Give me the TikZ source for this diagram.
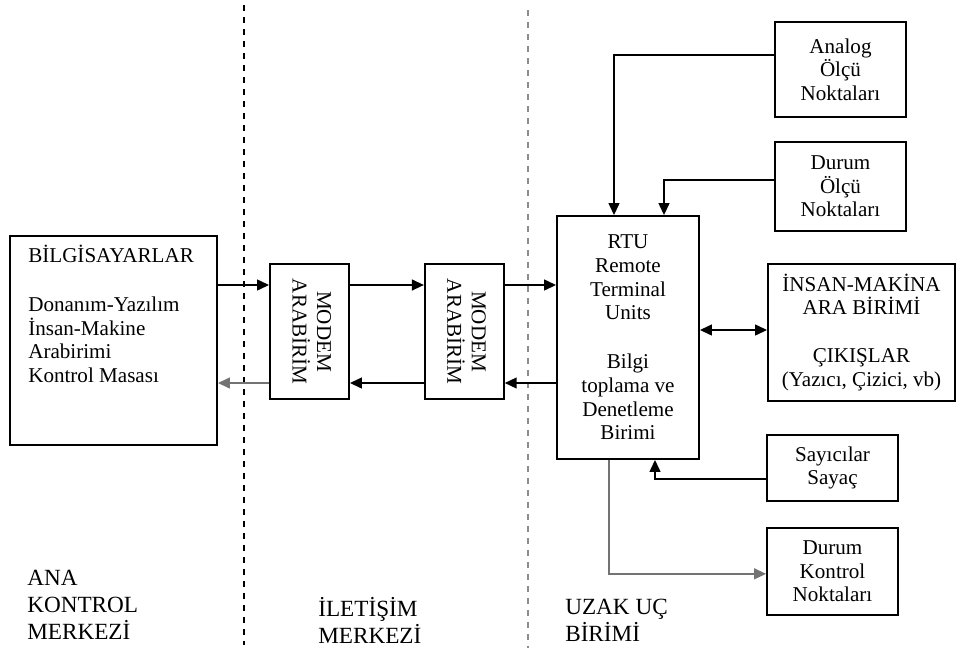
\documentclass[tikz,border=0pt]{standalone}
\usepackage{fontspec}
\setmainfont{Liberation Serif}
\usepackage{graphicx}
\usetikzlibrary{arrows.meta, positioning}

\begin{document}
\begin{tikzpicture}[
  node distance=0.6cm,
  box/.style={rectangle, draw=black, line width=1.3pt, inner sep=0pt, align=center,
              font=\fontsize{15}{16.8}\selectfont},
  flow/.style={-{Triangle[length=0.3cm, width=0.27cm]}, line width=1.3pt},
  twoway/.style={{Triangle[length=0.3cm, width=0.27cm]}-{Triangle[length=0.3cm, width=0.27cm]}, line width=1.3pt},
  faint/.style={color=black!55},
  zone/.style={anchor=north west, align=left, inner sep=0pt, font=\fontsize{16.5}{19.2}\selectfont},
  divider/.style={line width=1.1pt, dash pattern=on 0.15cm off 0.15cm}
]
  \useasboundingbox (0,0) rectangle (23.925,-16.3);

  % Zone separators
  \draw[divider] (6.1,-0.125) -- (6.1,-16.125);
  \draw[divider, black!45] (13.2,-0.25) -- (13.2,-16.2);

  % Ana kontrol merkezi
  \node[box, minimum width=5.175cm, minimum height=5.225cm] (bilg) at (2.8375,-8.5125) {};
  \node[anchor=north west, align=left, inner sep=0pt, font=\fontsize{15}{16.8}\selectfont]
    (bilgtxt) at (0.7,-6.12) {BİLGİSAYARLAR\\[0.64cm]Donanım-Yazılım\\İnsan-Makine\\Arabirimi\\Kontrol Masası};

  % Modems
  \node[box, minimum width=1.975cm, minimum height=3.375cm] (modem1) at (7.7375,-8.2875)
    {\rotatebox{-90}{\begin{tabular}{@{}c@{}}MODEM\\ARABİRİM\end{tabular}}};
  \node[box, minimum width=1.975cm, minimum height=3.375cm, right=1.85cm of modem1] (modem2)
    {\rotatebox{-90}{\begin{tabular}{@{}c@{}}MODEM\\ARABİRİM\end{tabular}}};

  % Uzak uc birimi
  \node[box, minimum width=3.55cm, minimum height=6.075cm] (rtu) at (15.7,-8.4375)
    {RTU\\Remote\\Terminal\\Units\\[0.64cm]Bilgi\\toplama ve\\Denetleme\\Birimi};
  \node[box, minimum width=3.275cm, minimum height=2.375cm] (analog) at (21.0125,-1.7375)
    {Analog\\Ölçü\\Noktaları};
  \node[box, minimum width=3.275cm, minimum height=2.225cm, below=0.575cm of analog] (dolcu)
    {Durum\\Ölçü\\Noktaları};
  \node[box, minimum width=4.675cm, minimum height=3.425cm] (hmi) at (21.5375,-8.3125)
    {İNSAN-MAKİNA\\ARA BİRİMİ\\[0.61cm]ÇIKIŞLAR\\(Yazıcı, Çizici, vb)};
  \node[box, minimum width=3.275cm, minimum height=1.65cm] (sayac) at (20.8125,-11.7)
    {Sayıcılar\\Sayaç};
  \node[box, minimum width=3.275cm, minimum height=2.175cm, below=0.625cm of sayac] (dkontrol)
    {Durum\\Kontrol\\Noktaları};

  % Data lines
  \coordinate (hi) at (0,-7.125);
  \coordinate (lo) at (0,-9.575);
  \coordinate (hm) at (0,-8.25);
  \draw[flow] (bilg.east |- hi) -- (modem1.west |- hi);
  \draw[flow] (modem1.east |- hi) -- (modem2.west |- hi);
  \draw[flow] (modem2.east |- hi) -- (rtu.west |- hi);
  \draw[flow] (rtu.west |- lo) -- (modem2.east |- lo);
  \draw[flow] (modem2.west |- lo) -- (modem1.east |- lo);
  \draw[flow, faint] (modem1.west |- lo) -- (bilg.east |- lo);

  \draw[flow] ([yshift=0.3625cm]analog.west) -| ([xshift=-0.35cm]rtu.north);
  \draw[flow] ([yshift=0.1625cm]dolcu.west) -| ([xshift=0.9cm]rtu.north);
  \draw[twoway] (rtu.east |- hm) -- (hmi.west |- hm);
  \draw[flow] ([yshift=-0.275cm]sayac.west) -| ([xshift=0.675cm]rtu.south);
  \draw[flow, faint] ([xshift=-0.475cm]rtu.south) |- ([yshift=-0.0625cm]dkontrol.west);

  % Zone labels
  \node[zone] (zana) at (0.675,-14.25) {ANA\\KONTROL\\MERKEZİ};
  \node[zone] (zilet) at (7.95,-14.93) {İLETİŞİM\\MERKEZİ};
  \node[zone] (zuzak) at (14.125,-14.97) {UZAK UÇ\\BİRİMİ};
\end{tikzpicture}
\end{document}
